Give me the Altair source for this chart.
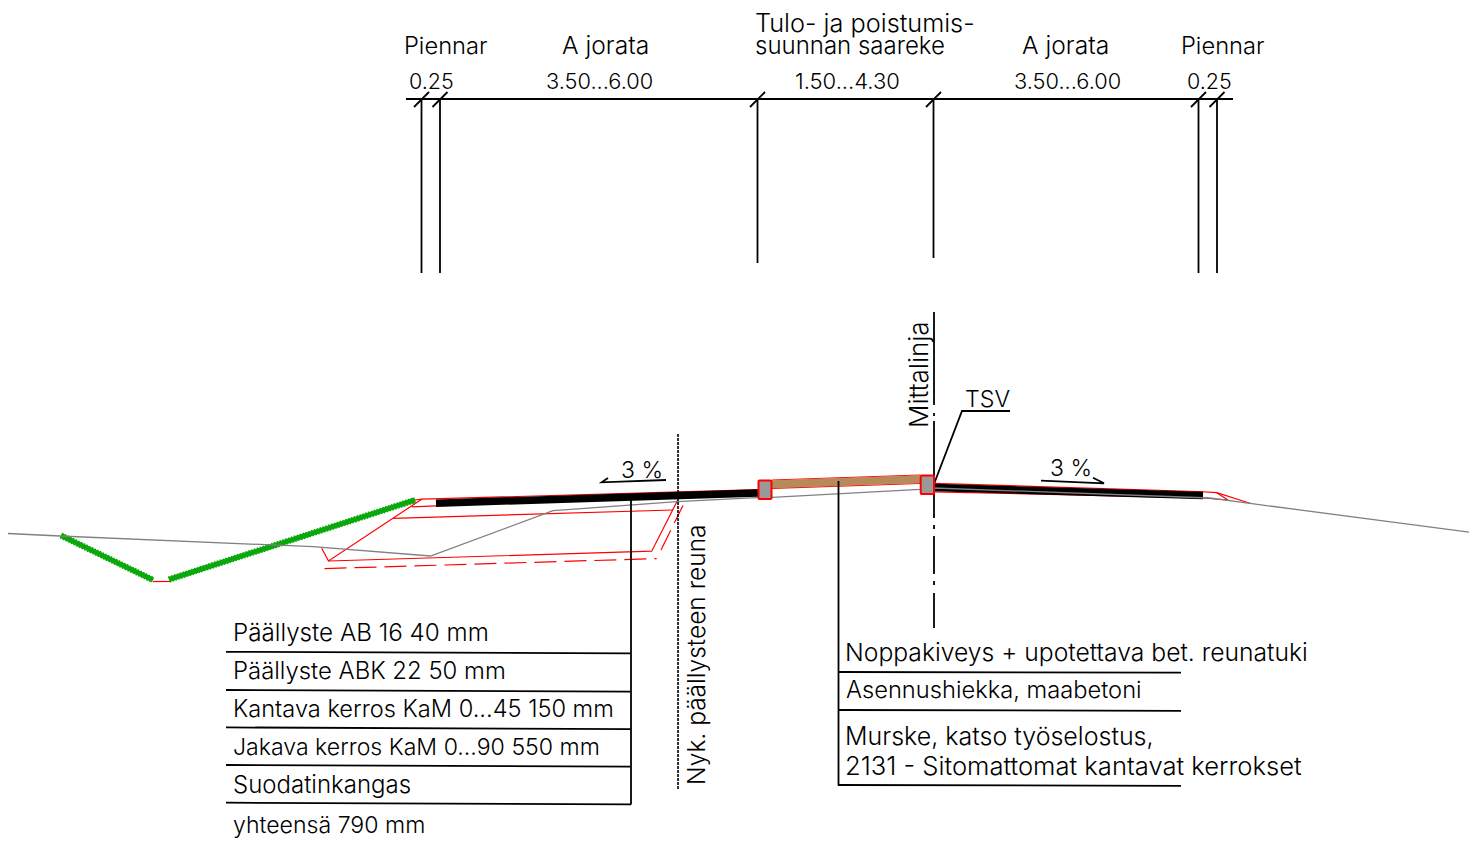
import altair as alt
import pandas as pd

# ---- polylines (drawing units = reference pixels) ----
GROUND_X = [8, 60, 313, 430.5, 553, 677, 757, 772, 920, 934, 1210, 1250, 1469]
GROUND_Y = [533.5, 536, 546.7, 556, 510.7, 501.7, 497.7, 497.3, 489.3, 488, 498, 503.4, 532.2]

GREEN_SLOPES = [
    ([61, 153], [535.5, 580]),
    ([169, 415], [579.5, 500]),
]

RED_LINES = [
    ([153, 171], [581.5, 581.5]),
    ([415, 421.7, 758], [500, 499.2, 489.6]),
    ([421.7, 328.5, 321.7], [499.2, 561, 548.3]),
    ([328.5, 651.7, 677.5], [561, 551.2, 500.5]),
    ([411.7, 436], [506.8, 505.8]),
    ([393, 673], [518.3, 510]),
    ([772, 920], [480, 475]),
    ([772, 920], [488.3, 483.5]),
    ([934, 1198, 1216.7, 1250], [483.3, 491.5, 492.7, 503.3]),
    ([934, 1203, 1228, 1216.7], [491.8, 498, 500, 492.7]),
]

RED_DASHED = [
    ([324.5, 656.7], [568.6, 558.6]),
    ([661, 683], [550, 505.5]),
]

BLACK_THICK = [
    ([436, 758], [503.2, 493]),
    ([934, 1203], [487.5, 495.5]),
]

BROWN_X = [772, 920]
BROWN_Y = [484.2, 479.2]

THIN_LINES = [
    # dimension line, extension lines and ticks
    ([406, 1233], [99, 99]),
    ([421.5, 421.5], [99, 273]),
    ([440, 440], [99, 273]),
    ([757.5, 757.5], [99, 263]),
    ([933.5, 933.5], [99, 258]),
    ([1198.5, 1198.5], [99, 273]),
    ([1217, 1217], [99, 273]),
    ([414, 429], [107, 92]),
    ([432.5, 447.5], [107, 92]),
    ([750, 765], [107, 92]),
    ([926, 941], [107, 92]),
    ([1191, 1206], [107, 92]),
    ([1209.5, 1224.5], [107, 92]),
    # measuring line
    ([934, 934], [312, 405]),
    ([934, 934], [413, 416]),
    ([934, 934], [421, 518]),
    ([934, 934], [525, 529]),
    ([934, 934], [536, 574]),
    ([934, 934], [581, 585]),
    ([934, 934], [593, 628]),
    # TSV leader
    ([934, 962, 1010], [484, 411, 411]),
    # slope arrows
    ([608, 601.7, 666], [478, 482.3, 480]),
    ([1041, 1104, 1093], [480.7, 483.3, 477.7]),
    # left layer table
    ([631, 631], [497, 804.5]),
    ([226, 631], [651.8, 653.4]),
    ([226, 631], [690, 691.7]),
    ([226, 631], [727.4, 729.2]),
    ([226, 631], [765, 766.7]),
    ([226, 631], [802.7, 804.4]),
    # right layer table
    ([838.5, 838.5], [481, 785.5]),
    ([838, 1181], [672, 672.6]),
    ([838, 1181], [710, 710.8]),
    ([838, 1181], [785, 785.8]),
]

EDGE_DASHED_X = [678, 678]
EDGE_DASHED_Y = [434, 789]

CURB_X = [758.5, 920.7]
CURB_X2 = [771.5, 934]
CURB_Y = [480.5, 475.5]
CURB_Y2 = [499, 494]

LABELS = [
    "Piennar", "A jorata", "Tulo- ja poistumis-", "suunnan saareke", "A jorata", "Piennar",
    "0.25", "3.50...6.00", "1.50...4.30", "3.50...6.00", "0.25",
    "3 %", "3 %", "TSV",
    "Päällyste AB 16 40 mm", "Päällyste ABK 22 50 mm", "Kantava kerros KaM 0...45 150 mm",
    "Jakava kerros KaM 0...90 550 mm", "Suodatinkangas", "yhteensä 790 mm",
    "Noppakiveys + upotettava bet. reunatuki", "Asennushiekka, maabetoni",
    "Murske, katso työselostus,", "2131 - Sitomattomat kantavat kerrokset",
    "Mittalinja", "Nyk. päällysteen reuna",
]
LABEL_X = [404, 562, 755, 755, 1022, 1181,
           409, 546, 795, 1014, 1187,
           621, 1050, 965,
           233, 233, 233, 233, 233, 233,
           845, 846, 845, 845,
           928, 705]
LABEL_Y = [54, 54, 32, 54, 54, 54,
           89, 89, 89, 89, 89,
           478, 476, 407,
           641, 679, 717, 755, 793, 833,
           661, 698, 745, 775,
           428, 785]
LABEL_ANGLE = [0] * 24 + [270, 270]
LABEL_SIZE = [23.7, 24.6, 25.3, 24, 24.6, 23.7,
              21.5, 21.8, 22, 21.8, 21.5,
              23, 23, 23.2,
              24.2, 23.9, 23.6, 23.1, 24, 23.1,
              24.7, 23.7, 25, 25.6,
              26, 24.5]


def table(lines):
    rows = []
    for i, (xs, ys) in enumerate(lines):
        for j, (x, y) in enumerate(zip(xs, ys)):
            rows.append({"id": i, "o": j, "x": x, "y": y})
    return pd.DataFrame(rows)


X = alt.X("x:Q", scale=alt.Scale(domain=[8, 1469]), axis=None)
Y = alt.Y("y:Q", scale=alt.Scale(domain=[840, 8]), axis=None)


def lines(data, color, width, dash=None, cap="butt"):
    kw = {"color": color, "strokeWidth": width, "strokeCap": cap, "clip": False}
    if dash:
        kw["strokeDash"] = dash
    return alt.Chart(table(data)).mark_line(**kw).encode(
        x=X, y=Y, detail="id:N", order="o:Q"
    )


curbs = pd.DataFrame({"x": CURB_X, "x2": CURB_X2, "y": CURB_Y, "y2": CURB_Y2})
labels = pd.DataFrame({"t": LABELS, "x": LABEL_X, "y": LABEL_Y, "a": LABEL_ANGLE, "s": LABEL_SIZE})

layers = [
    lines(RED_LINES, "#ff0000", 1.2),
    lines(RED_DASHED, "#ff0000", 1.2, dash=[22, 8]),
    lines(GREEN_SLOPES, "#0ba80b", 5),
    lines(GREEN_SLOPES, "#0ba80b", 6.5, dash=[1.5, 1.5]),
    lines(BLACK_THICK, "#000000", 7.5),
    lines([(BROWN_X, BROWN_Y)], "#b88a5a", 8),
    lines([(GROUND_X, GROUND_Y)], "#808080", 1.3),
    lines(THIN_LINES, "#000000", 1.8),
    lines([(EDGE_DASHED_X, EDGE_DASHED_Y)], "#000000", 1.6, dash=[3, 1]),
    alt.Chart(curbs).mark_rect(fill="#999999", stroke="#ff0000", strokeWidth=2, cornerRadius=1).encode(
        x=X, x2="x2:Q", y=Y, y2="y2:Q"
    ),
    alt.Chart(labels).mark_text(
        align="left", baseline="alphabetic", font="Inter", fontWeight=300, color="#000000"
    ).encode(
        x=X, y=Y, text="t:N",
        angle=alt.Angle("a:Q", scale=None),
        size=alt.Size("s:Q", scale=None),
    ),
]

chart = alt.layer(*layers).properties(
    width=1461, height=832, padding=0, background="#ffffff",
    autosize=alt.AutoSizeParams(type="none"),
).configure_view(strokeWidth=0)

chart.save("out.html", embed_options={"renderer": "svg", "actions": False})
